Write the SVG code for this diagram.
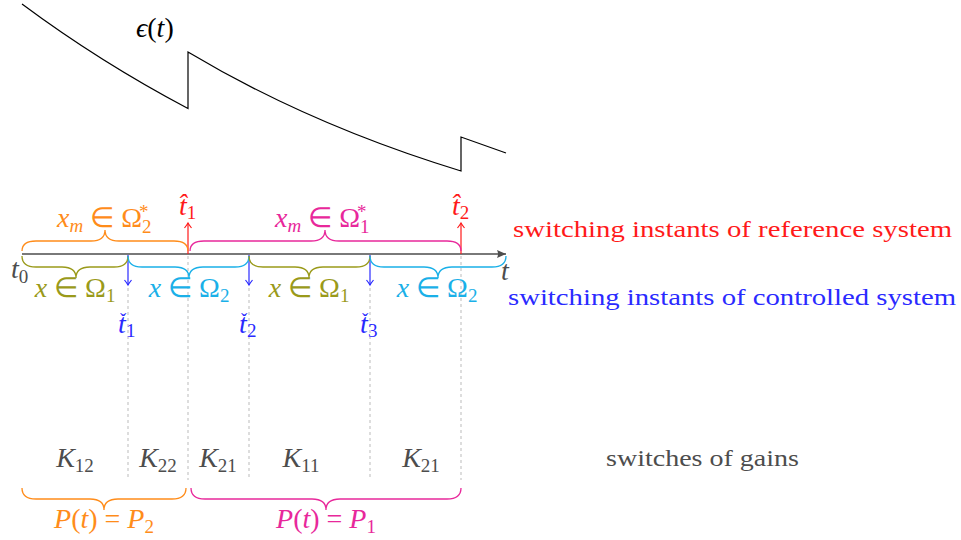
<svg xmlns="http://www.w3.org/2000/svg" width="961" height="540" viewBox="0 0 961 540">
<defs>
<marker id="ar" markerWidth="10" markerHeight="10" refX="0" refY="0" viewBox="-6 -5 8 10" orient="auto" markerUnits="userSpaceOnUse">
<path d="M-5,-3.5 Q-1.5,-0.8 0,0 Q-1.5,0.8 -5,3.5" fill="none" stroke="#ff1a1a" stroke-width="1.2"/>
</marker>
<marker id="ab" markerWidth="10" markerHeight="10" refX="0" refY="0" viewBox="-6 -5 8 10" orient="auto" markerUnits="userSpaceOnUse">
<path d="M-5,-3.5 Q-1.5,-0.8 0,0 Q-1.5,0.8 -5,3.5" fill="none" stroke="#2a2aff" stroke-width="1.2"/>
</marker>
<marker id="ax" markerWidth="12" markerHeight="10" refX="0" refY="0" viewBox="-10 -5 11 10" orient="auto" markerUnits="userSpaceOnUse">
<path d="M-9,-4 L0,0 L-9,4 Q-7,0 -9,-4 Z" fill="#4d4d4d"/>
</marker>
</defs>

<g id="curve">
<path d="M22,4 Q100,62 188,108.5 L188,52 Q310,125 461,171 L461,137 L506,153" fill="none" stroke="#000" stroke-width="1.2"/>
<text x="136" y="37" font-family="Liberation Serif" font-size="28"><tspan font-style="italic">ϵ</tspan>(<tspan font-style="italic">t</tspan>)</text>
</g>

<g id="connectors">
<g stroke="#bbbbbb" stroke-width="1" stroke-dasharray="3 3">
<line x1="128" y1="288" x2="128" y2="480"/>
<line x1="188" y1="256" x2="188" y2="480"/>
<line x1="249" y1="288" x2="249" y2="480"/>
<line x1="370" y1="288" x2="370" y2="480"/>
<line x1="461" y1="256" x2="461" y2="480"/>
</g>
<line x1="22" y1="254" x2="506" y2="254" stroke="#4d4d4d" stroke-width="1.4" marker-end="url(#ax)"/>
<g stroke="#ff1a1a" stroke-width="1.2" marker-end="url(#ar)">
<line x1="188" y1="254" x2="188" y2="223"/>
<line x1="461" y1="254" x2="461" y2="223"/>
</g>
<g stroke="#2a2aff" stroke-width="1.2" marker-end="url(#ab)">
<line x1="128" y1="255" x2="128" y2="285"/>
<line x1="249" y1="255" x2="249" y2="285"/>
<line x1="370" y1="255" x2="370" y2="285"/>
</g>
</g>

<g id="brace-xm2">
<path fill="none" stroke-width="1.3" stroke="#ff8c1a" d="M22,251 Q22,241 36,241 L91,241 Q105,241 105,230 Q105,241 119,241 L174,241 Q188,241 188,251"/>
<text x="57" y="227" fill="#ff8c1a" font-family="Liberation Serif" font-size="28"><tspan font-style="italic">x</tspan><tspan font-size="19" font-style="italic" dy="5">m</tspan><tspan dy="-5"> ∈ Ω</tspan><tspan font-size="19" dy="6">2</tspan><tspan font-size="19" x="139" dy="-15">*</tspan></text>
</g>
<g id="brace-xm1">
<path fill="none" stroke-width="1.3" stroke="#e8289b" d="M190,251 Q190,241 204,241 L311,241 Q325,241 325,230 Q325,241 339,241 L447,241 Q461,241 461,251"/>
<text x="275" y="227" fill="#e8289b" font-family="Liberation Serif" font-size="28"><tspan font-style="italic">x</tspan><tspan font-size="19" font-style="italic" dy="5">m</tspan><tspan dy="-5"> ∈ Ω</tspan><tspan font-size="19" dy="6">1</tspan><tspan font-size="19" x="357" dy="-15">*</tspan></text>
</g>

<g id="brace-x1a">
<path fill="none" stroke-width="1.3" stroke="#9a9a1a" d="M22,256 Q22,267 36,267 L62,267 Q76,267 76,278 Q76,267 90,267 L114,267 Q128,267 128,256"/>
<text x="75" y="297" text-anchor="middle" fill="#9a9a1a" font-family="Liberation Serif" font-size="28"><tspan font-style="italic">x</tspan> ∈ Ω<tspan font-size="19" dy="5">1</tspan></text>
</g>
<g id="brace-x2a">
<path fill="none" stroke-width="1.3" stroke="#1ab0e8" d="M128,256 Q128,267 142,267 L175,267 Q189,267 189,278 Q189,267 203,267 L235,267 Q249,267 249,256"/>
<text x="189" y="297" text-anchor="middle" fill="#1ab0e8" font-family="Liberation Serif" font-size="28"><tspan font-style="italic">x</tspan> ∈ Ω<tspan font-size="19" dy="5">2</tspan></text>
</g>
<g id="brace-x1b">
<path fill="none" stroke-width="1.3" stroke="#9a9a1a" d="M249,256 Q249,267 263,267 L295,267 Q309,267 309,278 Q309,267 323,267 L356,267 Q370,267 370,256"/>
<text x="309" y="297" text-anchor="middle" fill="#9a9a1a" font-family="Liberation Serif" font-size="28"><tspan font-style="italic">x</tspan> ∈ Ω<tspan font-size="19" dy="5">1</tspan></text>
</g>
<g id="brace-x2b">
<path fill="none" stroke-width="1.3" stroke="#1ab0e8" d="M370,256 Q370,267 384,267 L424,267 Q438,267 438,278 Q438,267 452,267 L492,267 Q506,267 506,256"/>
<text x="437" y="297" text-anchor="middle" fill="#1ab0e8" font-family="Liberation Serif" font-size="28"><tspan font-style="italic">x</tspan> ∈ Ω<tspan font-size="19" dy="5">2</tspan></text>
</g>

<g id="axis-labels">
<text x="11" y="278" fill="#4d4d4d" font-family="Liberation Serif" font-size="28"><tspan font-style="italic">t</tspan><tspan font-size="19" dy="5">0</tspan></text>
<text x="501" y="280" fill="#4d4d4d" font-family="Liberation Serif" font-size="28" font-style="italic">t</text>
</g>

<g id="that1">
<text x="179" y="215" fill="#ff1a1a" font-family="Liberation Serif" font-size="28"><tspan font-style="italic">t&#x302;</tspan><tspan font-size="19" dy="4">1</tspan></text>
</g>
<g id="that2">
<text x="452" y="215" fill="#ff1a1a" font-family="Liberation Serif" font-size="28"><tspan font-style="italic">t&#x302;</tspan><tspan font-size="19" dy="4">2</tspan></text>
</g>
<g id="tchk1">
<text x="118" y="333" fill="#2a2aff" font-family="Liberation Serif" font-size="28"><tspan font-style="italic">t</tspan><tspan font-size="19" x="120" dy="-7">ˇ</tspan><tspan font-size="19" x="126" dy="11">1</tspan></text>
</g>
<g id="tchk2">
<text x="239" y="333" fill="#2a2aff" font-family="Liberation Serif" font-size="28"><tspan font-style="italic">t</tspan><tspan font-size="19" x="241" dy="-7">ˇ</tspan><tspan font-size="19" x="247" dy="11">2</tspan></text>
</g>
<g id="tchk3">
<text x="360" y="333" fill="#2a2aff" font-family="Liberation Serif" font-size="28"><tspan font-style="italic">t</tspan><tspan font-size="19" x="362" dy="-7">ˇ</tspan><tspan font-size="19" x="368" dy="11">3</tspan></text>
</g>

<g id="legend-ref">
<text x="513" y="237" fill="#ff1a1a" font-family="Liberation Serif" font-size="23" textLength="439" lengthAdjust="spacingAndGlyphs">switching instants of reference system</text>
</g>
<g id="legend-ctrl">
<text x="508" y="305" fill="#2a2aff" font-family="Liberation Serif" font-size="23" textLength="448" lengthAdjust="spacingAndGlyphs">switching instants of controlled system</text>
</g>

<g id="gains">
<text x="75" y="467" text-anchor="middle" fill="#4d4d4d" font-family="Liberation Serif" font-size="28"><tspan font-style="italic">K</tspan><tspan font-size="19" dy="5">12</tspan></text>
<text x="158" y="467" text-anchor="middle" fill="#4d4d4d" font-family="Liberation Serif" font-size="28"><tspan font-style="italic">K</tspan><tspan font-size="19" dy="5">22</tspan></text>
<text x="218" y="467" text-anchor="middle" fill="#4d4d4d" font-family="Liberation Serif" font-size="28"><tspan font-style="italic">K</tspan><tspan font-size="19" dy="5">21</tspan></text>
<text x="301" y="467" text-anchor="middle" fill="#4d4d4d" font-family="Liberation Serif" font-size="28"><tspan font-style="italic">K</tspan><tspan font-size="19" dy="5">11</tspan></text>
<text x="421" y="467" text-anchor="middle" fill="#4d4d4d" font-family="Liberation Serif" font-size="28"><tspan font-style="italic">K</tspan><tspan font-size="19" dy="5">21</tspan></text>
<text x="606" y="466" fill="#4d4d4d" font-family="Liberation Serif" font-size="23" textLength="193" lengthAdjust="spacingAndGlyphs">switches of gains</text>
</g>

<g id="brace-p2">
<path fill="none" stroke-width="1.3" stroke="#ff8c1a" d="M22,488 Q22,499 36,499 L90,499 Q104,499 104,510 Q104,499 118,499 L172,499 Q186,499 186,488"/>
<text x="104" y="528" text-anchor="middle" fill="#ff8c1a" font-family="Liberation Serif" font-size="28"><tspan font-style="italic">P</tspan>(<tspan font-style="italic">t</tspan>) = <tspan font-style="italic">P</tspan><tspan font-size="19" dy="5">2</tspan></text>
</g>
<g id="brace-p1">
<path fill="none" stroke-width="1.3" stroke="#e8289b" d="M191,488 Q191,499 205,499 L312,499 Q326,499 326,510 Q326,499 340,499 L447,499 Q461,499 461,488"/>
<text x="326" y="528" text-anchor="middle" fill="#e8289b" font-family="Liberation Serif" font-size="28"><tspan font-style="italic">P</tspan>(<tspan font-style="italic">t</tspan>) = <tspan font-style="italic">P</tspan><tspan font-size="19" dy="5">1</tspan></text>
</g>
</svg>
